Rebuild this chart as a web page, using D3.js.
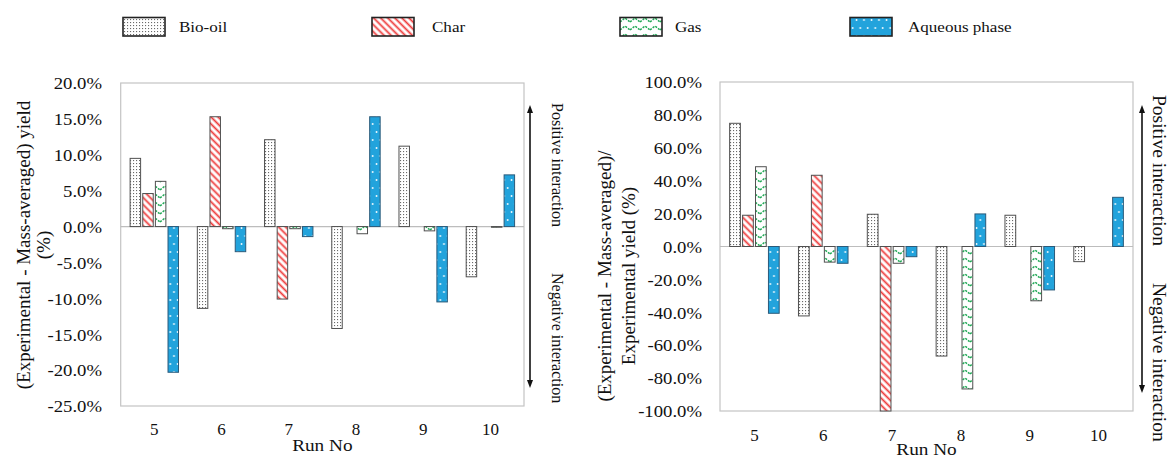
<!DOCTYPE html>
<html><head><meta charset="utf-8">
<script src="https://cdn.jsdelivr.net/npm/d3@7"></script>
<style>
html,body{margin:0;padding:0;background:#fff;}
svg{display:block;}
svg text{font-family:"Liberation Serif","DejaVu Serif","Times New Roman",serif !important;}
</style></head>
<body>
<svg id="chart" width="1173" height="459"></svg>
<script>
// ---- data ----
const categories = ["5","6","7","8","9","10"];
const seriesNames = ["Bio-oil","Char","Gas","Aqueous phase"];
// left chart: (Experimental - Mass-averaged) yield, %
const leftBioOil  = [9.5, -11.4, 12.1, -14.2, 11.2, -7.0];
const leftChar    = [4.6, 15.3, -10.1, 0, 0, 0];
const leftGas     = [6.3, -0.3, -0.3, -1.0, -0.6, -0.1];
const leftAqueous = [-20.3, -3.5, -1.4, 15.3, -10.5, 7.2];
// right chart: (Experimental - Mass-averaged)/Experimental yield, %
const rightBioOil  = [74.9, -42.2, 19.6, -66.6, 19.0, -9.2];
const rightChar    = [19.0, 43.3, -100.0, 0, 0, 0];
const rightGas     = [48.5, -9.5, -10.2, -86.6, -33.0, 0];
const rightAqueous = [-40.6, -10.2, -6.2, 19.8, -26.4, 29.9];
const leftTicks  = [-25,-20,-15,-10,-5,0,5,10,15,20];
const rightTicks = [-100,-80,-60,-40,-20,0,20,40,60,80,100];

const FONT = "'Liberation Serif','DejaVu Serif','Times New Roman',serif";
const svg = d3.select("#chart");
const SX = 1.1; // horizontal stretch of text as in the reference

// ---- patterns ----
const defs = svg.append("defs");
const pBio = defs.append("pattern").attr("id","pBio").attr("patternUnits","userSpaceOnUse")
  .attr("width",3).attr("height",3);
pBio.append("rect").attr("width",3).attr("height",3).attr("fill","#fff");
pBio.append("rect").attr("x",1).attr("y",1).attr("width",1.1).attr("height",1.1).attr("fill","#6a6a6a");
const pChar = defs.append("pattern").attr("id","pChar").attr("patternUnits","userSpaceOnUse")
  .attr("width",5).attr("height",5).attr("patternTransform","rotate(-45)");
pChar.append("rect").attr("width",5).attr("height",5).attr("fill","#fff");
pChar.append("line").attr("x1",1.5).attr("x2",1.5).attr("y1",0).attr("y2",5)
  .attr("stroke","#ee3b3b").attr("stroke-width",1.8);
const pGas = defs.append("pattern").attr("id","pGas").attr("patternUnits","userSpaceOnUse")
  .attr("width",10).attr("height",8);
pGas.append("rect").attr("width",10).attr("height",8).attr("fill","#fff");
pGas.append("path").attr("d","M0,6 L5,2 L10,6").attr("fill","none")
  .attr("stroke","#1fa855").attr("stroke-width",1.5).attr("stroke-dasharray","2.2,1.2");
const pAq = defs.append("pattern").attr("id","pAq").attr("patternUnits","userSpaceOnUse")
  .attr("width",7.5).attr("height",16);
pAq.append("rect").attr("width",7.5).attr("height",16).attr("fill","#22a3dc");
pAq.append("circle").attr("cx",1.5).attr("cy",4).attr("r",0.9).attr("fill","#fff");
pAq.append("circle").attr("cx",5.25).attr("cy",12).attr("r",0.9).attr("fill","#fff");

const fills = {"Bio-oil":"url(#pBio)","Char":"url(#pChar)","Gas":"url(#pGas)","Aqueous phase":"url(#pAq)"};
const strokes = {"Bio-oil":"#505050","Char":"#505050","Gas":"#505050","Aqueous phase":"#2a5a7a"};

function stretchedText(g, x, y, txt, size, anchor){
  return g.append("text").attr("transform",`translate(${x},${y}) scale(${SX},1)`)
    .attr("text-anchor",anchor||"start").attr("font-size",size).attr("fill","#111").text(txt);
}

function drawChart(opt){
  const g = svg.append("g");
  const x = d3.scaleBand().domain(categories).range([opt.x0, opt.x1]);
  const y = d3.scaleLinear().domain(opt.domain).range([opt.yBot, opt.yTop]);
  const bw = x.bandwidth();
  const xs = d3.scaleBand().domain(seriesNames).range([bw*0.14, bw*0.86]).paddingInner(0.17);

  g.append("rect").attr("x",opt.x0).attr("y",opt.yTop).attr("width",opt.x1-opt.x0)
    .attr("height",opt.yBot-opt.yTop).attr("fill","none").attr("stroke","#c4c4c4").attr("stroke-width",1.2);
  g.append("line").attr("x1",opt.x0).attr("x2",opt.x1).attr("y1",y(0)).attr("y2",y(0))
    .attr("stroke","#bdbdbd").attr("stroke-width",1.2);

  seriesNames.forEach((s,si)=>{
    const vals = opt.values[si];
    g.append("g").selectAll("rect").data(categories.map((c,i)=>({c, v:vals[i]})).filter(d=>d.v!==0))
      .join("rect")
      .attr("x", d=>x(d.c)+xs(s))
      .attr("width", xs.bandwidth())
      .attr("y", d=>y(Math.max(0,d.v)))
      .attr("height", d=>Math.abs(y(d.v)-y(0)))
      .attr("fill", fills[s]).attr("stroke", strokes[s]).attr("stroke-width",1);
  });

  const ya = g.append("g").attr("transform",`translate(${opt.yLabelX},0)`)
    .call(d3.axisLeft(y).tickValues(opt.ticks).tickSize(0).tickPadding(0)
      .tickFormat(d=>d.toFixed(1)+"%"));
  ya.attr("font-family",FONT);
  ya.select(".domain").remove();
  ya.selectAll("text").attr("font-size",17)
    .attr("fill","#111").attr("x",0).attr("dy","0.34em")
    .attr("transform",`scale(${SX},1)`);

  const xa = g.append("g").attr("transform",`translate(0,${opt.xLabelY})`)
    .call(d3.axisBottom(x).tickSize(0).tickPadding(0));
  xa.attr("font-family",FONT);
  xa.select(".domain").remove();
  xa.selectAll("text").attr("font-size",17)
    .attr("fill","#111").attr("y",0).attr("dy",0);

  stretchedText(g, (opt.x0+opt.x1)/2, opt.xTitleY, "Run No", 17.5, "middle");

  opt.yTitle.forEach((t,i)=>{
    g.append("text").attr("transform",`translate(${opt.yTitleX[i]},${opt.yTitleCY}) rotate(-90)`)
      .attr("text-anchor","middle").attr("font-size",19).attr("fill","#111").text(t);
  });

  const ax = opt.arrowX;
  g.append("line").attr("x1",ax).attr("x2",ax).attr("y1",opt.arrowTop+6).attr("y2",opt.arrowBot-6)
    .attr("stroke","#111").attr("stroke-width",1.6);
  g.append("path").attr("d",`M${ax-3},${opt.arrowTop+8} L${ax},${opt.arrowTop} L${ax+3},${opt.arrowTop+8} Z`).attr("fill","#111");
  g.append("path").attr("d",`M${ax-3},${opt.arrowBot-8} L${ax},${opt.arrowBot} L${ax+3},${opt.arrowBot-8} Z`).attr("fill","#111");
  g.append("text").attr("transform",`translate(${opt.annX},${opt.posY}) rotate(90)`)
    .attr("font-size",opt.annSize).attr("fill","#111").text("Positive interaction");
  g.append("text").attr("transform",`translate(${opt.annX},${opt.negY}) rotate(90)`)
    .attr("font-size",opt.annSize).attr("fill","#111").text("Negative interaction");
}

drawChart({
  x0:120.7, x1:524, yTop:83, yBot:406, domain:[-25,20], ticks:leftTicks,
  values:[leftBioOil,leftChar,leftGas,leftAqueous],
  yLabelX:102, xLabelY:435, xTitleY:451,
  yTitle:["(Experimental - Mass-averaged) yield","(%)"], yTitleX:[30,50], yTitleCY:245,
  arrowX:530, arrowTop:105, arrowBot:388, annX:552, posY:103, negY:273, annSize:16
});
drawChart({
  x0:720, x1:1133, yTop:82, yBot:411, domain:[-100,100], ticks:rightTicks,
  values:[rightBioOil,rightChar,rightGas,rightAqueous],
  yLabelX:702, xLabelY:441, xTitleY:455,
  yTitle:["(Experimental - Mass-averaged)/","Experimental yield (%)"], yTitleX:[611,635], yTitleCY:276,
  arrowX:1142, arrowTop:105, arrowBot:393, annX:1153, posY:95, negY:283, annSize:19.5
});

const legX = [123, 372, 620, 850];
const legTextX = [179, 432, 675, 908];
const leg = svg.append("g");
seriesNames.forEach((s,i)=>{
  leg.append("rect").attr("x",legX[i]).attr("y",17.5).attr("width",42).attr("height",18.5)
    .attr("fill",fills[s]).attr("stroke","#222").attr("stroke-width",1.6);
  stretchedText(leg, legTextX[i], 32, s, 15.5, "start");
});
svg.selectAll("text").attr("font-family",FONT);
</script>
</body></html>
